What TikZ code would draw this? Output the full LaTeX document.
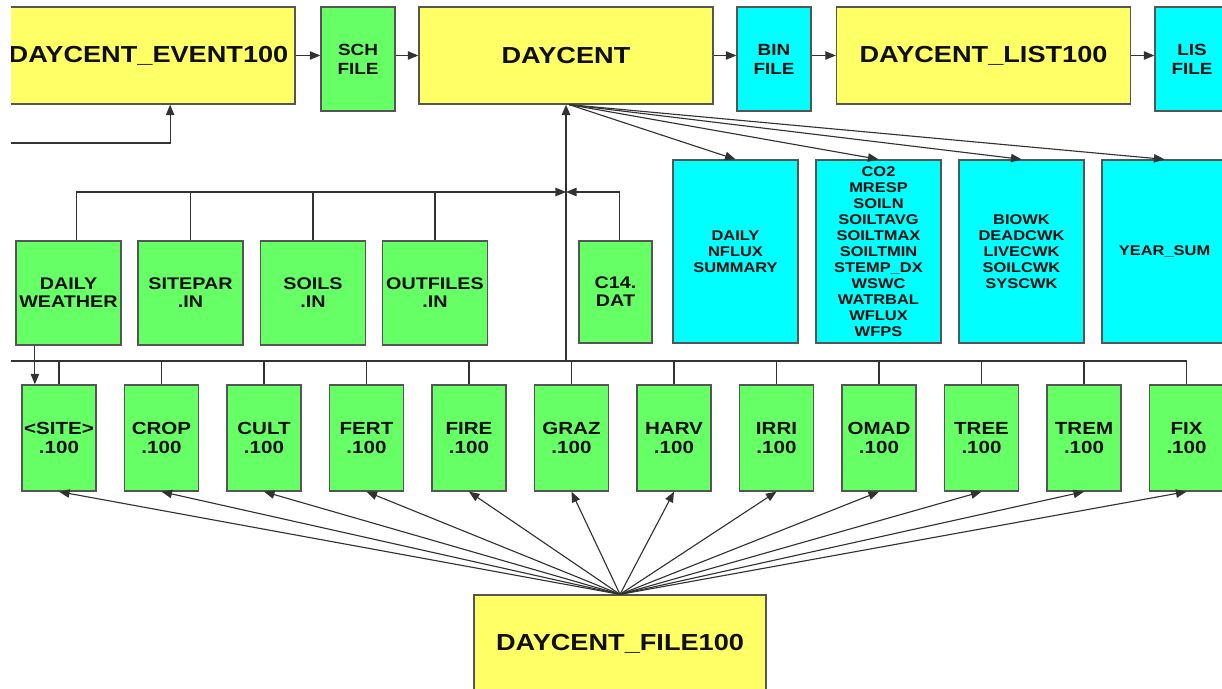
\documentclass[tikz,border=0pt]{standalone}
\usepackage{fontspec}
\setmainfont{Liberation Sans}[FakeStretch=1.17]
\usetikzlibrary{arrows.meta}
\definecolor{fileyellow}{RGB}{255,255,102}
\definecolor{filegreen}{RGB}{102,255,102}
\definecolor{filecyan}{RGB}{0,255,255}
\definecolor{edgegray}{RGB}{85,85,85}
\definecolor{linegray}{RGB}{50,50,50}
\definecolor{labelblack}{RGB}{15,15,15}

\begin{document}
\begin{tikzpicture}[
            x=0.025cm, y=-0.025cm,
            box/.style={rectangle, draw=edgegray, line width=0.9pt, align=center, inner sep=0pt, text=labelblack},
            program/.style={box, fill=fileyellow, minimum width=7.35cm, minimum height=2.425cm, font=\bfseries\fontsize{16.5}{20}\selectfont},
            binfile/.style={box, fill=#1, minimum width=1.85cm, minimum height=2.6cm, font=\bfseries\fontsize{11.5}{13.5}\selectfont},
            output/.style={box, fill=filecyan, minimum width=3.125cm, minimum height=4.575cm, font=\bfseries\fontsize{10}{11.4}\selectfont},
            input/.style={box, fill=filegreen, minimum width=2.625cm, minimum height=2.6cm, font=\bfseries\fontsize{12}{12.8}\selectfont},
            param/.style={box, fill=filegreen, minimum width=1.85cm, minimum height=2.65cm, font=\bfseries\fontsize{12.5}{13.2}\selectfont},
            wire/.style={draw=linegray, line width=0.8pt},
            arrow/.style={wire, -{Triangle[length=7.5pt, width=6pt]}}
        ]
            \useasboundingbox (0,0) rectangle (1222,689);
            \fill[white] (0,0) rectangle (1222,689);
            \clip (11,0) rectangle (1222,689);

            \node[program, minimum width=7.325cm] (event) at (148.5,55.5) {DAYCENT\_EVENT100};
            \node[binfile=filegreen] (sch) at (358,59) {SCH\\FILE};
            \node[program] (daycent) at (566,55.5) {DAYCENT};
            \node[binfile=filecyan] (bin) at (774,59) {BIN\\FILE};
            \node[program] (list) at (983.5,55.5) {DAYCENT\_LIST100};
            \node[binfile=filecyan] (lis) at (1192,59) {LIS\\FILE};

            \node[output] (dailyout) at (735.5,251.5) {DAILY\\NFLUX\\SUMMARY};
            \node[output] (soilout) at (878.5,251.5) {CO2\\MRESP\\SOILN\\SOILTAVG\\SOILTMAX\\SOILTMIN\\STEMP\_DX\\WSWC\\WATRBAL\\WFLUX\\WFPS};
            \node[output] (cwkout) at (1021.5,251.5) {BIOWK\\DEADCWK\\LIVECWK\\SOILCWK\\SYSCWK};
            \node[output] (yearout) at (1164.5,251.5) {YEAR\_SUM};

            \node[input] (weather) at (68.5,293) {DAILY\\WEATHER};
            \node[input] (sitepar) at (190.5,293) {SITEPAR\\.IN};
            \node[input] (soils) at (313,293) {SOILS\\.IN};
            \node[input] (outfiles) at (435,293) {OUTFILES\\.IN};
            \node[input, minimum width=1.825cm, minimum height=2.55cm] (c14) at (615.5,292) {C14.\\DAT};

            \foreach \label [count=\i] in {<SITE>, CROP, CULT, FERT, FIRE, GRAZ, HARV, IRRI, OMAD, TREE, TREM, FIX}
                \node[param] (param\i) at ({59+102.5*(\i-1)},438) {\label\\.100};

            \node[program, minimum width=7.3cm] (file100) at (620,643.5) {DAYCENT\_FILE100};

            \coordinate (eventfeed) at (0,143);
            \coordinate (inhub) at (566,192);
            \coordinate (busleft) at (0,361);

            \draw[arrow] (event.east) -- (event.east -| sch.west);
            \draw[arrow] (sch.east |- daycent.west) -- (daycent.west);
            \draw[arrow] (daycent.east) -- (daycent.east -| bin.west);
            \draw[arrow] (bin.east |- list.west) -- (list.west);
            \draw[arrow] (list.east) -- (list.east -| lis.west);
            \draw[arrow] (eventfeed) -| ([xshift=0.54cm]event.south);

            \draw[arrow, line width=1.3pt] (daycent.south |- busleft) -- (daycent.south);
            \foreach \n in {dailyout, soilout, cwkout, yearout}
                \draw[arrow] ([xshift=0.08cm]daycent.south) -- (\n.north);

            \draw[arrow] ([xshift=0.19cm]weather.north) |- (inhub);
            \foreach \n in {sitepar, soils, outfiles}
                \draw[wire] (\n.north) -- (\n.north |- inhub);
            \draw[arrow] ([xshift=0.11cm]c14.north) |- (inhub);

            \draw[wire] (busleft) -- (busleft -| param12.north);
            \foreach \i in {1,...,12}
                \draw[wire] (param\i.north) -- (param\i.north |- busleft);
            \draw[arrow] ([xshift=-0.84cm]weather.south) -- ([xshift=-0.84cm]weather.south |- param1.north);

            \foreach \i in {1,...,12}
                \draw[arrow] (file100.north) -- (param\i.south);
        \end{tikzpicture}
\end{document}
